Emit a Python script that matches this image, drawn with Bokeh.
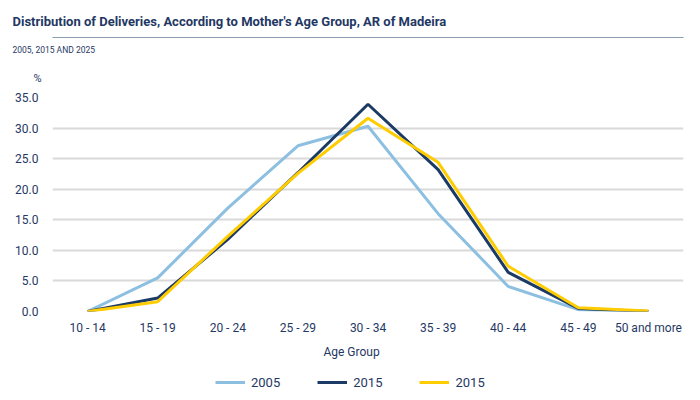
from bokeh.plotting import figure
from bokeh.layouts import column
from bokeh.models import (Label, Legend, LegendItem, FixedTicker, NumeralTickFormatter,
                          Range1d, FactorRange, Title, CategoricalAxis)
from bokeh.embed import file_html
from bokeh.resources import INLINE

categories = ["10 - 14", "15 - 19", "20 - 24", "25 - 29", "30 - 34",
              "35 - 39", "40 - 44", "45 - 49", "50 and more"]
series_names = ["2005", "2015", "2015"]
values_2005 = [0.0, 5.5, 16.9, 27.1, 30.3, 16.0, 4.1, 0.3, 0.0]
values_2015 = [0.0, 2.2, 11.8, 22.7, 33.9, 23.2, 6.4, 0.5, 0.0]
values_2025 = [0.0, 1.6, 12.3, 22.6, 31.6, 24.4, 7.4, 0.6, 0.1]
y_ticks = [0, 5, 10, 15, 20, 25, 30, 35]

TXT = "#1f3864"
colors = ["#8dbfe0", "#1b3b64", "#ffcc00"]

# ---- main chart (frame 52..683 x 97..311) ----
p = figure(width=700, height=340, output_backend="svg", toolbar_location=None,
           x_range=FactorRange(*categories), y_range=Range1d(0, 35),
           min_border_left=52, min_border_right=17, min_border_top=97, min_border_bottom=29)
p.outline_line_color = None

renderers = []
for vals, col in zip([values_2005, values_2015, values_2025], colors):
    renderers.append(p.line(categories, vals, line_color=col, line_width=3))

p.xgrid.grid_line_color = None
p.ygrid.grid_line_color = "#d9d9d9"
p.ygrid.grid_line_width = 2
p.yaxis.ticker = FixedTicker(ticks=y_ticks)
p.yaxis.formatter = NumeralTickFormatter(format="0.0")
for ax in (p.xaxis, p.yaxis):
    ax.axis_line_color = None
    ax.major_tick_line_color = None
    ax.minor_tick_line_color = None
    ax.major_label_text_color = TXT
    ax.major_label_text_font = "Roboto"
    ax.major_label_text_font_size = "12px"
p.xaxis.major_label_standoff = 3
p.yaxis.major_label_standoff = 8

# header texts stacked above the frame (first = nearest the frame)
p.add_layout(Title(text="%", align="left", offset=-19, standoff=23, vertical_align="middle",
                   text_font="Roboto", text_font_style="normal", text_font_size="11px",
                   text_color=TXT), "above")
p.add_layout(Title(text="2005, 2015 AND 2025", align="left", offset=-40, standoff=10,
                   vertical_align="bottom", text_font="Roboto", text_font_style="normal",
                   text_font_size="8.5px", text_color=TXT), "above")
rule = CategoricalAxis(axis_line_color="#8a9db5", axis_line_width=1,
                       ticker=FixedTicker(ticks=[]), bounds=(-0.571, 9.0),
                       major_tick_line_color=None, minor_tick_line_color=None,
                       major_label_standoff=0, major_tick_out=0, major_tick_in=0)
p.add_layout(rule, "above")
p.add_layout(Title(text="Distribution of Deliveries, According to Mother's Age Group, AR of Madeira",
                   align="left", offset=-40, standoff=18, vertical_align="bottom",
                   text_font="Roboto", text_font_style="bold", text_font_size="13px",
                   text_color=TXT), "above")

# ---- footer: axis title and legend (frame aligned with the chart: 52..683) ----
f = figure(width=700, height=60, output_backend="svg", toolbar_location=None,
           x_range=Range1d(52, 683), y_range=Range1d(60, 0),
           x_axis_type=None, y_axis_type=None, min_border=0)
f.outline_line_color = None
f.grid.grid_line_color = None
f.add_layout(Label(x=351, y=11, text="Age Group", text_font="Roboto", text_align="center",
                   text_font_size="12px", text_color=TXT, text_baseline="middle"))
keys = [f.line(x=[-100, -90], y=[-100, -100], line_color=c, line_width=3) for c in colors]
legend = Legend(items=[LegendItem(label=n, renderers=[k]) for n, k in zip(series_names, keys)],
                orientation="horizontal", location=(163, 8),
                glyph_width=30, glyph_height=20, label_height=20, label_standoff=6, spacing=37,
                padding=0, margin=0, border_line_color=None, background_fill_alpha=0,
                label_text_color=TXT, label_text_font="Roboto", label_text_font_size="13px")
f.add_layout(legend, "center")

layout = column(p, f, spacing=0)
open("out.html", "w").write(file_html(layout, INLINE))
